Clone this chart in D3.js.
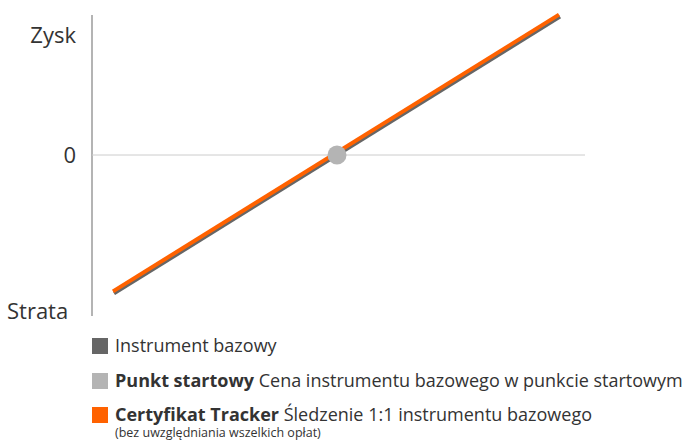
<!DOCTYPE html>
<meta charset="utf-8">
<title>Certyfikat Tracker</title>
<script src="https://d3js.org/d3.v7.min.js"></script>
<body style="margin:0;background:#fff">
<div id="chart"></div>
</body>
<script>
  // values (relative performance)
  var underlyingX = [-1, 1];
  var underlyingY = [-1, 1];
  var trackerY = [-1, 1];        // 1:1 tracking
  var startPoint = [0, 0];
  var axisLabels = ["Zysk", "0", "Strata"];

  var legendItems = [
    {color: "#666666", bold: "", text: "Instrument bazowy", note: ""},
    {color: "#b4b4b4", bold: "Punkt startowy", text: " Cena instrumentu bazowego w punkcie startowym", note: ""},
    {color: "#ff6200", bold: "Certyfikat Tracker", text: " Śledzenie 1:1 instrumentu bazowego", note: "(bez uwzględniania wszelkich opłat)"}
  ];

  var width = 691, height = 442;
  var font = "'Open Sans', sans-serif";

  var svg = d3.select("#chart").append("svg")
    .attr("width", width)
    .attr("height", height);

  var x = d3.scaleLinear().domain([-1, 1]).range([114, 560]);
  var y = d3.scaleLinear().domain([-1.12, 1.12]).range([310, 0]);

  // y axis (vertical bar)
  svg.append("line")
    .attr("x1", 92).attr("x2", 92)
    .attr("y1", 15).attr("y2", 316)
    .attr("stroke", "#b4b4b4").attr("stroke-width", 2);

  // zero line
  svg.append("line")
    .attr("x1", 92).attr("x2", 585)
    .attr("y1", y(0)).attr("y2", y(0))
    .attr("stroke", "#cccccc").attr("stroke-width", 1);

  // axis labels
  svg.append("text").attr("x", 76).attr("y", 43)
    .attr("text-anchor", "end").attr("font-family", font).attr("font-size", 22)
    .attr("fill", "#333").text(axisLabels[0]);
  svg.append("text").attr("x", 76).attr("y", y(0) + 8)
    .attr("text-anchor", "end").attr("font-family", font).attr("font-size", 22)
    .attr("fill", "#333").text(axisLabels[1]);
  svg.append("text").attr("x", 7).attr("y", 319)
    .attr("font-family", font).attr("font-size", 22)
    .attr("fill", "#333").text(axisLabels[2]);

  var line = d3.line().x(d => x(d[0])).y(d => y(d[1]));

  svg.append("path")
    .datum(underlyingX.map((v, i) => [v, underlyingY[i]]))
    .attr("d", line)
    .attr("fill", "none").attr("stroke", "#666666").attr("stroke-width", 4);

  // tracker drawn slightly offset so both lines stay visible
  svg.append("path")
    .datum(underlyingX.map((v, i) => [v, trackerY[i]]))
    .attr("d", line)
    .attr("transform", "translate(-1,-2)")
    .attr("fill", "none").attr("stroke", "#ff6200").attr("stroke-width", 4);

  svg.append("circle")
    .attr("cx", x(startPoint[0])).attr("cy", y(startPoint[1]))
    .attr("r", 9.5).attr("fill", "#b4b4b4");

  // legend
  var rowY = [338, 373, 407];
  var leg = svg.selectAll(".leg").data(legendItems).join("g")
    .attr("class", "leg")
    .attr("transform", (d, i) => "translate(92," + rowY[i] + ")");

  leg.append("rect")
    .attr("x", 0).attr("y", 0).attr("width", 16).attr("height", 16)
    .attr("fill", d => d.color);

  var t = leg.append("text")
    .attr("x", 23).attr("y", 14)
    .attr("font-family", font).attr("font-size", 18).attr("fill", "#333");
  t.append("tspan").attr("font-weight", "bold").text(d => d.bold);
  t.append("tspan").text(d => d.text);

  leg.filter(d => d.note).append("text")
    .attr("x", 23).attr("y", 30)
    .attr("font-family", font).attr("font-size", 12.5).attr("fill", "#333")
    .text(d => d.note);
</script>
